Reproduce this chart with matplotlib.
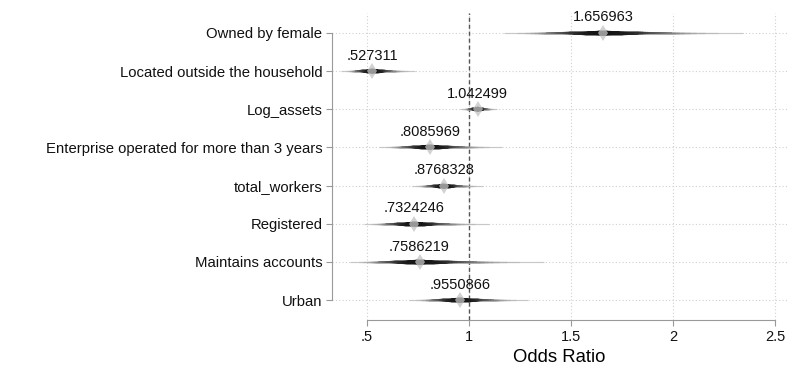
import numpy as np
import matplotlib.pyplot as plt
from statistics import NormalDist

plt.rcParams['font.family'] = ['Liberation Sans', 'DejaVu Sans']

# variables, top to bottom
labels = ['Owned by female', 'Located outside the household', 'Log_assets',
          'Enterprise operated for more than 3 years', 'total_workers',
          'Registered', 'Maintains accounts', 'Urban']
odds = [1.656963, 0.527311, 1.042499, 0.8085969, 0.8768328, 0.7324246, 0.7586219, 0.9550866]
# outer (99%) confidence bounds
lo99 = [1.175, 0.375, 0.958, 0.564, 0.72, 0.49, 0.42, 0.707]
hi99 = [2.347, 0.736, 1.14, 1.17, 1.066, 1.106, 1.367, 1.293]

def stata_fmt(v):
    s = f"{v:.7g}"
    return s[1:] if s.startswith('0.') else s

fig = plt.figure(figsize=(8.05, 3.78), dpi=100)
ax = fig.add_axes([0.4124, 0.1534, 0.978 - 0.4124, 0.9656 - 0.1534])

ypos = np.arange(1, len(labels) + 1)

# smoothed confidence intervals (levels 1..99, darker and thicker near centre)
z99 = 2.5758
levels = np.arange(1, 100, 2)
nd = NormalDist()
for y, b, lo, hi in zip(ypos, odds, lo99, hi99):
    se = (np.log(hi) - np.log(lo)) / (2 * z99)
    for lev in levels[::-1]:
        z = nd.inv_cdf(0.5 + lev / 200)
        l, h = np.exp(np.log(b) - z * se), np.exp(np.log(b) + z * se)
        frac = lev / 100
        grey = 0.08 + 0.72 * frac ** 3
        lw = 2.6 * (1 - frac) ** 1.2 + 0.8
        ax.plot([l, h], [y, y], color=str(grey), lw=lw, solid_capstyle='butt', zorder=3)
    ax.plot(b, y, marker='d', markersize=8, color='#c4c4c4', markeredgewidth=0,
            alpha=0.75, zorder=4)
    ax.text(b, y - 0.22, stata_fmt(b), ha='center', va='bottom', fontsize=10.5,
            color='#111111', zorder=5)

ax.axvline(1, color='#555555', lw=1, ls=(0, (3, 2)), zorder=2)

ax.set_xlim(0.330, 2.559)
ax.set_ylim(8.52, 0.48)
ax.set_yticks(ypos)
ax.set_yticklabels(labels, fontsize=10.7)
ax.set_xticks([0.5, 1, 1.5, 2, 2.5])
ax.set_xticklabels(['.5', '1', '1.5', '2', '2.5'], fontsize=10.5)
ax.set_xlabel('Odds Ratio', fontsize=13.3, labelpad=3)

ax.grid(True, color='#d0d0d0', ls=(0, (1, 2)), lw=0.8, zorder=0)
for s in ['top', 'right']:
    ax.spines[s].set_visible(False)
ax.spines['left'].set_bounds(1, 8)
ax.spines['bottom'].set_bounds(0.5, 2.5)
for s in ['left', 'bottom']:
    ax.spines[s].set_color('#999999')
ax.tick_params(axis='both', colors='#999999', labelcolor='#111111', length=4, width=0.8)
ax.tick_params(axis='y', pad=3)

fig.savefig('out.png', dpi=100)
